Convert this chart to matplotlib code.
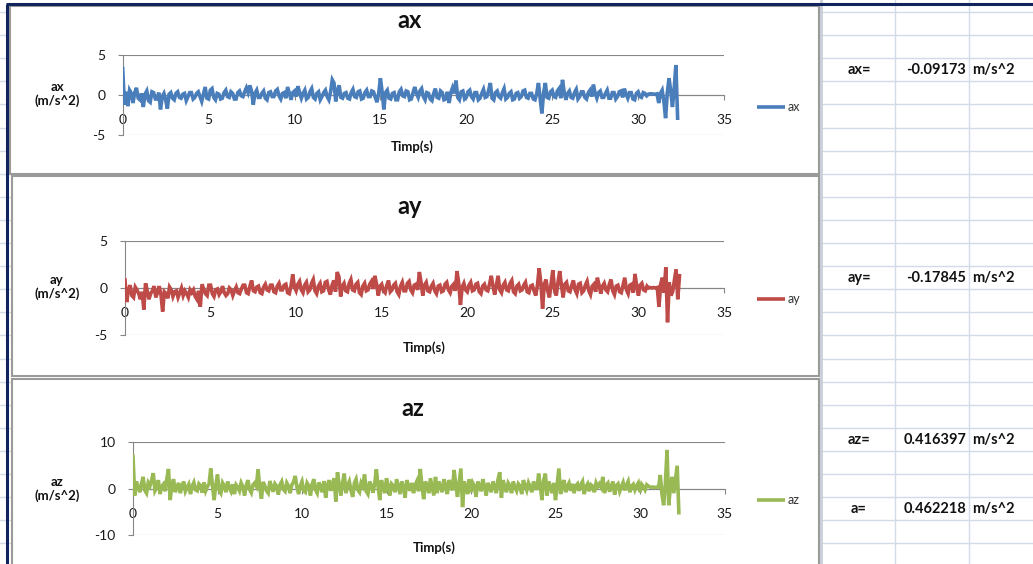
import matplotlib
matplotlib.use("Agg")
import matplotlib.pyplot as plt
from matplotlib.patches import Rectangle
import numpy as np

plt.rcParams['font.family'] = ['Lato', 'DejaVu Sans']
plt.rcParams['axes.unicode_minus'] = False

# ---------------- data ----------------
SAMPLE_STEP = 0.1  # seconds between samples

ax_vals = [
    3.3, -1.2, 0.4, -1.4, 0.6, 0.2, -1.0, 0.3, 0.9, -0.4,
    -0.6, 0.2, -1.5, 0.1, 0.5, -0.7, -0.9, 0.4, 0.3, -0.5,
    -0.5, 0.3, -1.8, -0.2, 0.2, -0.6, -1.7, 0.1, 0.3, -0.4,
    -0.6, 0.2, 0.4, -0.3, -0.4, 0.1, 0.2, -0.7, -0.2, 0.3,
    0.3, -0.5, -0.3, 0.2, 0.4, -0.2, -0.8, 0.1, 1.0, -0.4,
    -0.5, 0.6, 0.8, -0.3, -0.6, 0.2, 0.1, -0.5, -0.4, 0.3,
    0.6, -0.2, -0.3, 0.4, 0.2, -0.5, -0.5, 0.3, 0.5, -0.1,
    -0.2, 0.4, 0.9, 0.3, 1.2, 0.5, -1.2, 0.2, 0.6, -0.3,
    -0.3, 0.2, 0.5, -0.4, -0.6, 0.3, 0.4, -0.2, -0.2, 0.5,
    0.7, -0.1, -0.5, 0.2, 0.3, -0.4, 1.0, 0.2, -0.6, 0.3,
    0.5, -0.2, 1.1, 0.3, -0.4, 0.2, 0.6, -0.5, -0.3, 0.4,
    0.8, -0.3, -0.5, 0.2, 0.4, -0.6, -0.2, 0.3, 0.6, -0.2,
    -0.6, 0.4, 1.9, 1.5, -0.8, 0.6, 1.2, -0.3, -0.4, 0.2,
    0.3, -0.4, -0.5, 0.3, 0.7, -0.2, -0.3, 0.4, 0.5, -0.5,
    -0.4, 0.3, 0.6, -0.2, -0.2, 0.5, 0.4, -0.3, -0.9, 0.2,
    2.1, 0.4, -1.8, 0.3, 0.6, -0.4, -0.5, 0.2, 0.3, -0.6,
    -0.6, 0.4, 0.7, -0.1, -0.2, 0.5, 0.4, -0.6, -0.5, 0.3,
    1.0, 0.2, -0.3, 0.5, 0.8, -0.2, -0.6, 0.3, 0.2, -0.5,
    -0.7, 0.2, 0.8, -0.3, -0.4, 0.5, 0.3, -0.6, -0.5, 0.4,
    -1.0, 0.3, 0.9, 0.2, 1.8, -0.3, -0.6, 0.4, 0.5, -0.5,
    -0.3, 0.4, 0.6, -0.2, -0.5, 0.3, 0.3, -0.6, -0.4, 0.2,
    0.7, -0.3, -0.2, 0.6, 1.5, -0.4, -0.6, 0.3, 0.5, -0.2,
    -0.4, 0.3, 0.8, -0.5, -0.3, 0.2, 0.4, -0.6, -0.5, 0.2,
    0.3, -0.4, -0.2, 0.5, 0.6, -0.3, -0.4, 0.2, 0.2, -0.5,
    -0.6, 0.2, 1.5, -0.5, -2.3, 0.3, 1.5, -0.3, -0.4, 0.4,
    0.6, -0.2, -0.3, 0.5, 0.8, -0.4, 1.9, 0.3, -0.6, 0.2,
    0.5, -0.3, -0.4, 0.3, 0.7, -0.5, -0.2, 0.4, 0.4, -0.3,
    -0.5, 0.3, 0.6, -0.2, 1.3, 0.2, -0.4, 0.3, 0.5, -0.3,
    -0.3, 0.2, 0.6, -0.4, -0.4, 0.3, 0.3, -0.5, -0.2, 0.4,
    0.5, -0.3, 0.8, 0.1, -0.4, 0.3, 0.3, -0.5, -0.6, 0.2,
    0.4, -0.2, -0.3, 0.3, 0.2, -0.1, 0.1, 0.15, 0.15, 0.1,
    0.1, 0.15, -1.0, 0.2, 0.6, -0.8, -2.9, 0.3, 2.1, 0.5,
    -1.5, 0.8, 3.75, -2.9,
]

ay_vals = [
    0.85, -1.5, -0.2, 0.3, -0.8, -1.0, 0.1, -0.2, -0.6, -1.2,
    -0.4, -2.3, 0.5, -0.3, -1.2, -0.6, -0.3, 0.2, -1.0, -0.5,
    0.2, -0.7, -2.5, -0.4, -0.6, -1.1, 0.1, -0.2, -0.9, -0.4,
    -0.3, -1.0, -0.5, 0.0, -0.8, -0.3, -0.6, -1.0, -0.2, -0.5,
    -0.2, -0.9, -1.2, -0.3, -2.0, 0.4, -0.1, -0.6, -0.8, 0.3,
    0.3, -0.6, -0.9, -0.2, -0.1, -0.7, -0.4, 0.2, -0.5, -0.8,
    -0.6, 0.0, -0.2, -0.8, -0.3, 0.1, -0.5, -0.6, -0.1, 0.3,
    0.3, -0.5, -0.6, 0.2, 0.8, -0.3, -0.4, 0.1, 0.2, -0.5,
    -0.6, 0.1, 0.4, -0.2, -0.3, 0.3, 0.3, -0.4, -0.5, 0.2,
    0.5, -0.2, -0.2, 0.3, 0.4, -0.5, -0.6, 0.2, 1.45, 0.1,
    -0.3, 0.4, 0.7, -0.2, -0.5, 0.3, 0.6, -0.4, -0.2, 0.5,
    0.9, -0.3, -0.6, 0.2, 0.5, -0.4, -0.3, 0.6, 0.7, -0.2,
    -0.7, 0.3, 0.8, -0.4, 1.7, 1.2, -0.9, 0.2, 0.5, -0.3,
    -0.4, 0.5, 0.9, -0.2, -0.3, 0.4, 0.6, -0.5, -0.7, 0.2,
    0.5, -0.3, -0.2, 0.4, 0.7, -0.1, 1.3, 0.4, -0.8, 0.2,
    0.4, -0.3, -0.5, 0.3, 0.8, -0.4, -0.2, 0.3, 0.5, -0.4,
    -0.7, 0.2, 0.6, -0.3, -0.3, 0.5, 0.7, -0.2, -0.5, 0.3,
    0.4, -0.2, 1.7, 0.6, -0.8, 0.3, 0.6, -0.3, -0.4, 0.2,
    0.5, -0.3, -0.6, 0.2, 0.3, -0.4, -0.3, 0.4, 0.6, -0.2,
    -0.5, 0.2, 0.4, -0.3, 1.8, 0.5, -1.8, 0.1, 0.5, -0.2,
    -0.4, 0.3, 0.6, -0.3, -0.2, 0.4, 0.5, -0.4, -0.6, 0.2,
    0.4, -0.2, -0.3, 0.4, 1.3, 0.2, -0.7, 0.3, 1.3, -0.2,
    -0.5, 0.3, 0.6, -0.2, -0.3, 0.5, 0.8, -0.4, -0.6, 0.2,
    0.4, -0.3, -0.2, 0.3, 0.6, -0.4, -0.5, 0.2, 0.3, -0.3,
    -0.8, 0.3, 2.1, 0.5, -2.2, 0.4, 0.9, -0.3, -1.0, 0.5,
    1.9, -0.2, -0.8, 0.6, 1.8, 0.3, -1.0, 0.4, 0.6, -0.3,
    -0.4, 0.3, 0.8, -0.2, -0.6, 0.4, 0.5, -0.5, -0.3, 0.3,
    0.7, -0.3, -0.7, 0.2, 0.4, -0.4, 1.1, 0.3, -0.6, 0.2,
    0.5, -0.2, -0.4, 0.4, 0.9, -0.3, -0.7, 0.2, 0.3, -0.4,
    -0.5, 0.3, 1.1, -0.2, -0.6, 0.3, 0.4, -0.5, 1.5, 0.2,
    -0.8, 0.3, 0.5, -0.2, -0.3, 0.2, 0.0, 0.05, 0.0, 0.05,
    0.0, 0.05, -2.0, 0.4, 1.1, -0.5, 2.2, -3.65, 0.6, -0.8,
    -0.4, 0.8, 2.0, -1.2, 1.3,
]

az_vals = [
    6.9, -1.5, 1.5, 0.3, -0.8, 1.0, 2.5, -0.4, -1.0, 1.2,
    0.5, 1.8, 3.3, -0.5, 0.2, 1.8, -1.2, 0.4, 0.9, -0.6,
    2.0, 4.2, -2.5, 0.8, 2.0, -0.8, 0.3, 1.2, -1.0, 0.6,
    1.5, -0.6, 0.2, 0.9, -1.2, 0.5, 1.3, -0.3, -0.5, 1.0,
    0.6, -0.9, 1.3, -0.5, 0.4, 1.0, 4.3, 0.6, -2.5, 0.8,
    3.0, -0.4, -1.0, 1.2, 0.5, -0.8, 1.5, 0.2, -0.6, 0.9,
    -1.2, 0.8, 0.3, -0.5, 1.2, 0.4, -1.5, 0.6, 1.8, -0.2,
    -0.9, 0.8, 1.2, 0.5, 4.1, 0.3, -2.2, 1.4, 0.6, -0.5,
    -1.0, 1.6, 0.4, -0.7, 1.0, 0.5, -1.3, 0.8, 1.5, -0.2,
    -0.6, 1.2, 0.5, -1.0, 0.8, 1.4, 2.7, 0.3, -1.2, 0.6,
    1.5, -0.5, -0.8, 1.2, 0.6, -1.5, 0.9, 2.0, -0.3, -1.0,
    1.3, 0.4, -0.8, 1.6, -2.0, 0.6, 1.8, -0.5, 1.0, 2.2,
    -2.8, 3.5, 0.8, -1.5, 1.2, 3.2, -1.0, 0.6, 1.5, -0.4,
    -1.8, 1.2, 2.0, -0.3, -0.8, 1.2, 0.5, 3.0, -0.6, -1.2,
    1.5, 0.6, -0.9, 1.0, 4.1, 0.5, -2.5, 1.8, 0.3, -1.0,
    2.2, 0.5, -1.5, 1.0, 0.6, -0.8, 2.0, 0.4, -1.2, 1.5,
    0.3, -2.0, 1.8, 0.6, -0.5, 1.2, -1.0, 0.8, 1.6, -0.6,
    4.2, 0.4, -2.3, 1.5, 0.7, -1.0, 2.2, 0.3, -1.5, 2.5,
    -1.0, 1.5, 0.4, -0.8, 2.0, 0.6, -1.2, 1.8, 0.9, -0.4,
    4.0, 0.8, -1.8, 1.2, 4.3, -4.0, 1.5, 0.4, -1.2, 2.0,
    -0.8, 1.2, 0.5, -1.8, 1.5, 0.6, -0.6, 2.0, 0.4, -1.5,
    1.2, 0.3, -0.8, 1.5, 0.5, -1.0, 2.0, 3.5, -2.0, 1.8,
    0.4, -0.8, 1.2, 0.6, -1.0, 1.5, 0.3, -0.5, 1.0, 0.5,
    -1.2, 1.8, 0.6, -0.4, 1.2, 0.3, -0.8, 1.5, 0.6, -0.3,
    3.2, 0.5, -2.5, 1.8, 3.2, -1.5, 1.5, 0.4, -1.0, 1.2,
    -2.5, 1.0, 4.3, -1.2, 0.8, 1.8, -0.8, 0.5, 1.2, -0.5,
    1.0, -1.0, 0.6, 1.0, -0.5, 0.8, 1.5, -1.2, 0.4, 1.0,
    -0.6, 0.8, 0.5, -0.8, 1.2, 0.4, 1.0, 0.3, 2.5, -1.0,
    0.8, 1.2, -0.7, 0.5, 1.5, -1.3, 0.6, 1.0, -0.6, 0.4,
    1.3, -0.4, 0.7, 1.5, -0.8, 0.5, 0.9, -0.3, 0.6, 1.2,
    -0.8, 0.9, 0.4, -0.3, 0.8, 0.5, 0.3, 0.3, 0.3, 0.2,
    0.3, 0.3, 2.9, -1.2, -3.6, 1.0, 8.3, -3.6, 0.5, 2.5,
    -1.0, 2.0, 4.9, -5.2,
]

series_names = ['ax', 'ay', 'az']
x_ticks = [0, 5, 10, 15, 20, 25, 30, 35]
y_ticks = [[-5, 0, 5], [-5, 0, 5], [-10, 0, 10]]
x_label = 'Timp(s)'
y_unit = '(m/s^2)'

summary_labels = ['ax=', 'ay=', 'az=', 'a=']
summary_values = ['-0.09173', '-0.17845', '0.416397', '0.462218']
summary_unit = 'm/s^2'

# ---------------- layout (pixels) ----------------
W, H = 1033, 564
fig = plt.figure(figsize=(W / 100, H / 100), dpi=100)

bg = fig.add_axes([0, 0, 1, 1])
bg.set_xlim(0, W)
bg.set_ylim(H, 0)
bg.axis('off')

# spreadsheet grid behind the charts
GRID_C = '#D4DBE8'
for k in range(25):
    y = 12 + 23.1 * k
    bg.plot([0, W], [y, y], color=GRID_C, lw=1.0, zorder=0)
for x in (895, 969):
    bg.plot([x, x], [0, H], color=GRID_C, lw=1.0, zorder=0)
bg.plot([821, 821], [0, H], color='#C9CFD9', lw=2.0, zorder=0)

# window edge
NAVY = '#12245E'
bg.plot([6, W], [4, 4], color=NAVY, lw=2.2, zorder=5, solid_capstyle='butt')
bg.plot([6.5, 6.5], [4, H], color=NAVY, lw=2.2, zorder=5, solid_capstyle='butt')

colors = ['#4A7EBB', '#BE4B48', '#98B954']
panels = [(10, 6, 819, 174), (12, 176, 819, 376), (12, 379, 819, 570)]
plot_boxes = [(122.7, 55, 724, 135), (125, 241, 724, 335), (133, 442, 724.5, 535)]
title_pos = [(410, 21), (410, 207), (413, 408)]
ylab_pos = [(57, 94), (57, 287), (57, 489)]
xlab_pos = [(412, 147), (424, 348), (434, 548)]
legend_y = [107, 299, 500]
GRAY = '#868686'
LINE_W = 2.6

for i, vals in enumerate([ax_vals, ay_vals, az_vals]):
    x0, y0, x1, y1 = panels[i]
    bg.add_patch(Rectangle((x0, y0), x1 - x0, y1 - y0, facecolor='white',
                           edgecolor='#9A9A9A', lw=1.5, zorder=1))

    px0, py0, px1, py1 = plot_boxes[i]
    a = fig.add_axes([px0 / W, 1 - py1 / H, (px1 - px0) / W, (py1 - py0) / H])
    a.patch.set_visible(False)
    t = np.arange(len(vals)) * SAMPLE_STEP
    a.plot(t, vals, color=colors[i], lw=LINE_W, solid_joinstyle='miter', zorder=3)

    yt = y_ticks[i]
    a.set_xlim(0, 35)
    a.set_ylim(yt[0], yt[-1])
    a.set_xticks(x_ticks)
    a.set_yticks(yt)
    a.set_axisbelow(True)
    a.grid(axis='y', color=GRAY, lw=0.8)
    a.grid(axis='x', visible=False)
    for s in ('top', 'right'):
        a.spines[s].set_visible(False)
    a.spines['bottom'].set_position(('data', 0))
    a.spines['bottom'].set_color(GRAY)
    a.spines['left'].set_color(GRAY)
    a.spines['bottom'].set_linewidth(0.8)
    a.spines['left'].set_linewidth(0.8)
    a.tick_params(axis='x', length=3.5, width=0.8, color=GRAY, pad=10.5,
                  labelsize=10, labelcolor='#1A1A1A')
    a.tick_params(axis='y', length=3.5, width=0.8, color=GRAY, pad=9,
                  labelsize=10, labelcolor='#1A1A1A')

    name = series_names[i]
    tx, ty = title_pos[i]
    bg.text(tx, ty, name, ha='center', va='center', fontsize=17,
            fontweight='bold', color='#111111', zorder=6)
    lx, ly = ylab_pos[i]
    bg.text(lx, ly, f'{name}\n{y_unit}', ha='center', va='center', fontsize=9.5,
            fontweight='bold', color='#111111', linespacing=1.2, zorder=6)
    xx, xy = xlab_pos[i]
    bg.text(xx, xy, x_label, ha='center', va='center', fontsize=9.5,
            fontweight='bold', color='#111111', zorder=6)
    ly2 = legend_y[i]
    bg.plot([757, 785], [ly2, ly2], color=colors[i], lw=LINE_W, zorder=6,
            solid_capstyle='butt')
    bg.text(788, ly2, name, ha='left', va='center', fontsize=9,
            color='#333333', zorder=6)

# summary cells
summary_rows = [70, 278, 440, 509]
for lab, val, y in zip(summary_labels, summary_values, summary_rows):
    bg.text(859, y, lab, ha='center', va='center', fontsize=10.5,
            fontweight='bold', color='#111111', zorder=6)
    bg.text(966, y, val, ha='right', va='center', fontsize=10.5,
            fontweight='bold', color='#111111', zorder=6)
    bg.text(972, y, summary_unit, ha='left', va='center', fontsize=10.5,
            fontweight='bold', color='#111111', zorder=6)

fig.savefig('out.png', dpi=100)
